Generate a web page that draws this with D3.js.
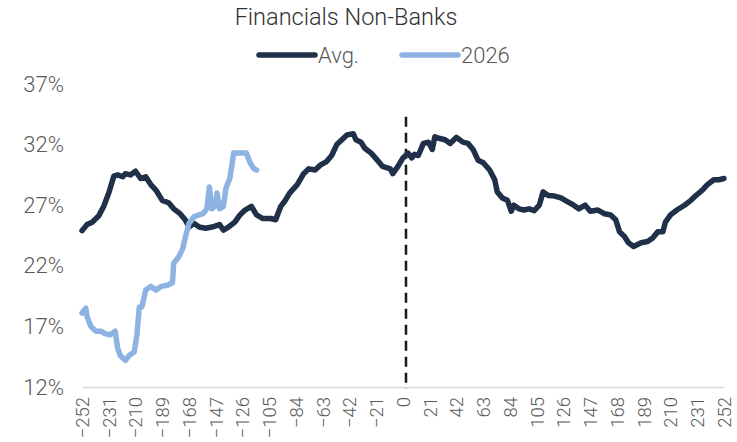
<!DOCTYPE html>
<html>
<head>
<meta charset="utf-8">
<script src="https://cdn.jsdelivr.net/npm/d3@7"></script>
<style>
  body { margin: 0; background: #fff; }
  svg { font-family: Roboto, 'Open Sans', sans-serif; }
</style>
</head>
<body>
<svg></svg>
<script>
// days relative to event, % values
let avgDays = [-252,-248,-244,-239,-235,-231,-227,-224,-220,-218,-214,-210,-206,-202,-198,-194,-189,-184,-180,-175,-171,-168,-164,-160,-155,-150,-144,-141,-137,-132,-128,-124,-119,-115,-110,-104,-100,-96,-93,-89,-83,-78,-74,-69,-65,-60,-56,-52,-48,-44,-39,-37,-33,-30,-25,-20,-16,-10,-8,-4,0,4,7,9,12,16,20,23,25,29,33,37,42,47,51,55,59,63,68,72,74,78,82,85,87,91,95,99,103,107,110,114,119,124,129,134,138,143,147,153,158,163,167,170,174,177,181,187,192,196,200,204,206,210,215,221,226,230,235,239,244,248,252]
let avgValues = [24.9,25.4,25.6,26.1,26.9,28.0,29.4,29.5,29.35,29.6,29.5,29.8,29.2,29.35,28.7,28.25,27.4,27.2,26.7,26.3,25.8,25.2,25.5,25.2,25.1,25.2,25.4,24.95,25.2,25.6,26.2,26.6,26.9,26.2,25.9,25.9,25.8,26.9,27.3,28.0,28.7,29.6,30.0,29.9,30.3,30.6,31.1,32.0,32.4,32.8,32.9,32.4,32.2,31.7,31.3,30.7,30.2,30.0,29.6,30.2,30.9,31.3,30.9,31.2,31.1,32.1,32.2,31.6,32.65,32.5,32.4,32.1,32.6,32.2,32.1,31.6,30.7,30.5,29.9,29.1,28.1,27.6,27.4,26.5,27.0,26.7,26.6,26.7,26.55,27.0,28.1,27.8,27.75,27.6,27.3,27.0,26.7,27.0,26.5,26.6,26.3,26.2,25.8,24.8,24.4,23.9,23.6,23.9,24.0,24.3,24.8,24.8,25.6,26.2,26.6,27.0,27.4,27.8,28.25,28.7,29.1,29.1,29.2]

let ytdDays = [-252,-249,-248,-245,-241,-237,-234,-230,-226,-224,-222,-218,-215,-211,-209,-207,-205,-202,-198,-194,-190,-185,-181,-180,-176,-173,-171,-168,-164,-160,-157,-154,-152,-150,-147,-146,-144,-141,-139,-136,-134,-133,-129,-125,-123,-120,-117,-115]
let ytdValues = [18.1,18.5,17.8,17.0,16.6,16.6,16.4,16.3,16.6,15.2,14.6,14.2,14.6,14.9,16.2,18.6,18.6,20.0,20.3,20.0,20.3,20.4,20.6,22.2,22.75,23.4,24.3,25.5,26.05,26.2,26.3,26.7,28.5,26.7,27.0,28.0,26.7,26.9,28.4,29.2,30.5,31.3,31.3,31.3,31.3,30.5,30.0,29.9]

let xTicks = d3.range(-252, 253, 21)
let yTicks = [12, 17, 22, 27, 32, 37]
let seriesNames = ['Avg.', '2026']
let seriesColors = ['#1f3048', '#8db3e2']

const w = 737
const h = 442

let svg = d3.select('svg').attr('width', w).attr('height', h)

let xScale = d3.scaleLinear().domain([-252, 252]).range([82, 724])
let yScale = d3.scaleLinear().domain([12, 37]).range([387, 84])

// title
svg.append('text')
  .attr('x', 346).attr('y', 25)
  .attr('text-anchor', 'middle')
  .attr('font-size', 23.5)
  .attr('font-weight', 300)
  .attr('fill', '#333333')
  .text('Financials Non-Banks')

// legend
let legendX = [259, 402]
seriesNames.forEach((name, i) => {
  let g = svg.append('g').attr('transform', 'translate(' + legendX[i] + ',55)')
  g.append('line').attr('x1', 0).attr('x2', 56)
    .attr('stroke', seriesColors[i]).attr('stroke-width', 5.5).attr('stroke-linecap', 'round')
  g.append('text').attr('x', 59).attr('dy', '0.36em')
    .attr('font-size', 22).attr('font-weight', 300).attr('fill', '#595959')
    .text(name)
})

// y axis
let yAxis = svg.append('g')
  .attr('transform', 'translate(66,0)')
  .call(d3.axisLeft(yScale).tickValues(yTicks).tickSize(0).tickFormat(d => d + '%'))
yAxis.select('.domain').remove()
yAxis.selectAll('text')
  .attr('font-size', 22).attr('font-weight', 300).attr('fill', '#595959')
  .attr('font-family', 'Roboto, sans-serif')
  .attr('x', -2)

// x axis
let xAxis = svg.append('g')
  .attr('transform', 'translate(0,' + yScale(12) + ')')
  .call(d3.axisBottom(xScale).tickValues(xTicks).tickSize(0))
xAxis.select('.domain').attr('stroke', '#d9d9d9').attr('stroke-width', 1.5)
xAxis.selectAll('text')
  .attr('font-size', 18.5).attr('font-weight', 300).attr('fill', '#595959')
  .attr('font-family', 'Roboto, sans-serif')
  .attr('text-anchor', 'end')
  .attr('transform', 'rotate(-90)')
  .attr('x', -10).attr('y', 0).attr('dy', '0.35em')

// dashed marker at day 0
svg.append('line')
  .attr('x1', xScale(0) + 3).attr('x2', xScale(0) + 3)
  .attr('y1', yScale(34.3)).attr('y2', yScale(12) + 2)
  .attr('stroke', '#1a1a1a').attr('stroke-width', 2.5)
  .attr('stroke-dasharray', '10,6')

let line = d3.line()
  .x(d => xScale(d[0]))
  .y(d => yScale(d[1]))

let avgData = avgDays.map((d, i) => [d, avgValues[i]])
let ytdData = ytdDays.map((d, i) => [d, ytdValues[i]])

svg.append('path').datum(avgData)
  .attr('d', line)
  .attr('fill', 'none').attr('stroke', seriesColors[0])
  .attr('stroke-width', 5.5).attr('stroke-linejoin', 'round').attr('stroke-linecap', 'round')

svg.append('path').datum(ytdData)
  .attr('d', line)
  .attr('fill', 'none').attr('stroke', seriesColors[1])
  .attr('stroke-width', 5.5).attr('stroke-linejoin', 'round').attr('stroke-linecap', 'round')
</script>
</body>
</html>
